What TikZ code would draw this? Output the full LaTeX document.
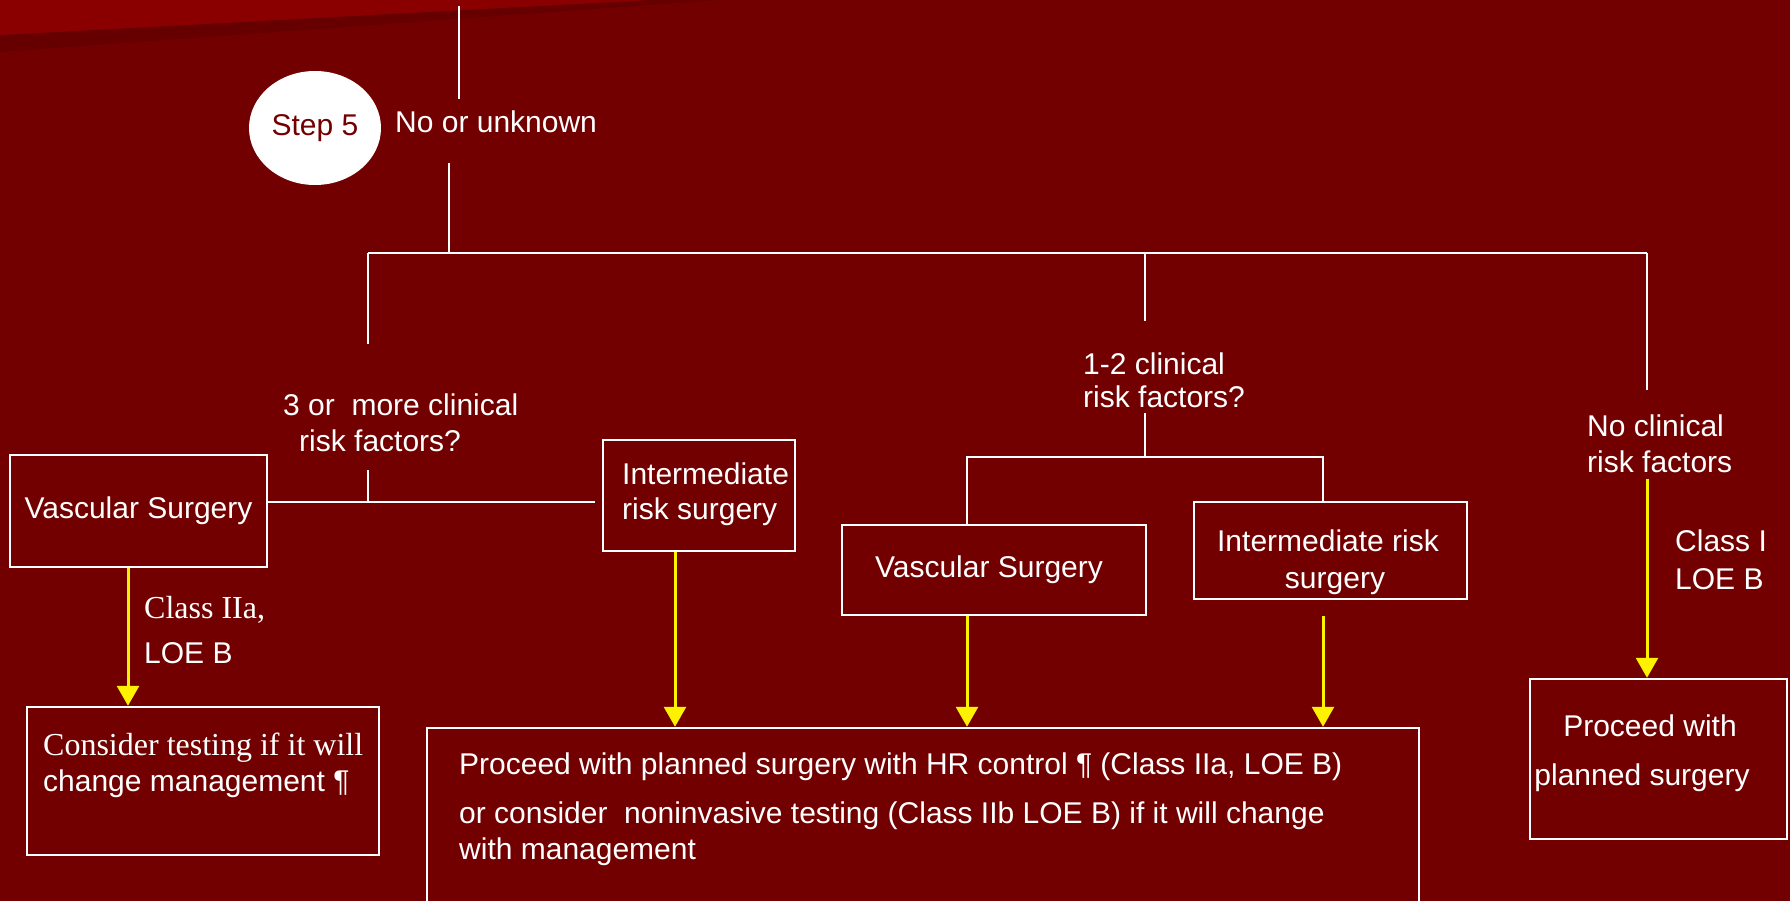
\documentclass[tikz,border=0pt]{standalone}
\usepackage{fontspec}
\setmainfont{Liberation Sans}
\newfontfamily\timesfont{Liberation Serif}
\usetikzlibrary{arrows.meta,shapes.geometric}
\definecolor{bgred}{HTML}{730000}
\definecolor{topred}{HTML}{8A0000}
\definecolor{shadered}{HTML}{660000}
\newcommand{\fsz}[1]{\fontsize{30}{#1}\selectfont}
\tikzset{
  wire/.style={draw=white, line width=2.5pt},
  flowbox/.style={draw=white, line width=2.5pt, rectangle, inner sep=0pt,
                  text=white, font=\fsz{35}},
  lbl/.style={text=white, inner sep=0pt, align=left, font=\fsz{36}},
  yarrow/.style={draw=yellow, line width=3pt,
                 -{Triangle[width=22pt,length=20pt,fill=yellow]}},
}
\begin{document}
\begin{tikzpicture}[x=1pt,y=-1pt]
\useasboundingbox (0,0) rectangle (1790,901);
% background with the lighter band at the top left
\fill[bgred] (0,0) rectangle (1790,901);
\fill[shadered] (0,35) -- (650,0) -- (720,0) -- (0,52) -- cycle;
\fill[topred] (0,0) -- (650,0) -- (0,35) -- cycle;

% step marker and its caption
\node[ellipse, fill=white, minimum width=132pt, minimum height=114pt,
      inner sep=0pt, text=bgred, font=\fsz{35}] (step) at (315,128) {Step 5};
\node[lbl, anchor=base west] (nou) at (395,133) {No or unknown};

% trunk and first split
\coordinate (topin) at (459,6);
\coordinate (topout) at (459,99);
\coordinate (a0) at (449,163);
\coordinate (j0) at (449,253);
\coordinate (jL) at (368,253);
\coordinate (jM) at (1145,253);
\coordinate (jR) at (1647,253);
\coordinate (dL) at (368,344);
\coordinate (dM) at (1145,321);
\coordinate (dR) at (1647,390);
\draw[wire] (topin) -- (topout);
\draw[wire] (a0) -- (j0);
\draw[wire] (jL) -- (jR);
\draw[wire] (jL) -- (dL);
\draw[wire] (jM) -- (dM);
\draw[wire] (jR) -- (dR);

% questions (base anchor = baseline of the last line)
\node[lbl, anchor=base west] (q3) at (283,451)
  {3 or\ \ more clinical\\\hspace*{16pt}risk factors?};
\node[lbl, anchor=base west, font=\fsz{33}] (q12) at (1083,407)
  {1-2 clinical\\risk factors?};
\node[lbl, anchor=base west] (nrf) at (1587,472)
  {No clinical\\risk factors};

% boxes
\node[flowbox, minimum width=257pt, minimum height=112pt] (vsL) at (138.5,511)
  {Vascular Surgery};
\node[flowbox, minimum width=192pt, minimum height=111pt] (irsL) at (699,495.5) {};
\node[lbl, anchor=base west, font=\fsz{35}] (irsLtxt) at (622,519)
  {Intermediate\\risk surgery};
\node[flowbox, minimum width=304pt, minimum height=90pt] (vsM) at (994,570)
  {Vascular Surgery\hspace*{10pt}};
\node[flowbox, minimum width=273pt, minimum height=97pt] (irsR) at (1330.5,550.5) {};
\node[lbl, anchor=base, align=center, font=\fsz{37}] (irsRtxt) at (1328,588)
  {Intermediate risk\\\hspace*{14pt}surgery};
\node[flowbox, minimum width=352pt, minimum height=148pt] (cons) at (203,781) {};
\node[lbl, anchor=base west, font=\fsz{36}] (constxt) at (43,791)
  {{\timesfont\fontsize{32}{36}\selectfont Consider testing if it will}\\change management ¶};
\node[flowbox, minimum width=992pt, minimum height=202pt] (big) at (923,829) {};
\node[lbl, anchor=base west, font=\fsz{36}] (bigtxt) at (459,859)
  {Proceed with planned surgery with HR control ¶ (Class IIa, LOE B)\\[13pt]
   or consider\ \ noninvasive testing (Class IIb LOE B) if it will change\\
   with management};
\node[flowbox, minimum width=257pt, minimum height=160pt] (proc) at (1658.5,759) {};
\node[lbl, anchor=base, align=center, font=\fsz{49}] (proctxt) at (1650,785)
  {Proceed with\\planned surgery\hspace*{16pt}};

% second-level splits
\coordinate (q3b) at (368,470);
\coordinate (q3j) at (368,502);
\coordinate (q3e) at (595,502);
\draw[wire] (q3b) -- (q3j);
\draw[wire] (q3j -| vsL.east) -- (q3e);
\coordinate (q12b) at (1145,413);
\coordinate (q12j) at (1145,457);
\coordinate (vsMdrop) at (967,457);
\coordinate (irsRdrop) at (1323,457);
\draw[wire] (q12b) -- (q12j);
\draw[wire] (vsMdrop |- vsM.north) -- (vsMdrop) -- (irsRdrop) -- (irsRdrop |- irsR.north);

% recommendations
\draw[yarrow] ([xshift=-10.5pt]vsL.south) -- ([xshift=-10.5pt]vsL.south |- cons.north);
\draw[yarrow] ([xshift=-24pt]irsL.south) -- ([xshift=-24pt]irsL.south |- big.north);
\draw[yarrow] (vsMdrop |- vsM.south) -- (vsMdrop |- big.north);
\coordinate (irsRarr) at (1323,616);
\draw[yarrow] (irsRarr) -- (irsRarr |- big.north);
\coordinate (nrfarr) at (1647,479);
\draw[yarrow] (nrfarr) -- (nrfarr |- proc.north);

% evidence labels
\node[lbl, anchor=base west, font=\fsz{45}] (c2a) at (144,663)
  {{\timesfont\fontsize{32}{45}\selectfont Class IIa,}\\LOE B};
\node[lbl, anchor=base west, font=\fsz{38}] (c1) at (1675,589)
  {Class I\\LOE B};
\end{tikzpicture}
\end{document}
